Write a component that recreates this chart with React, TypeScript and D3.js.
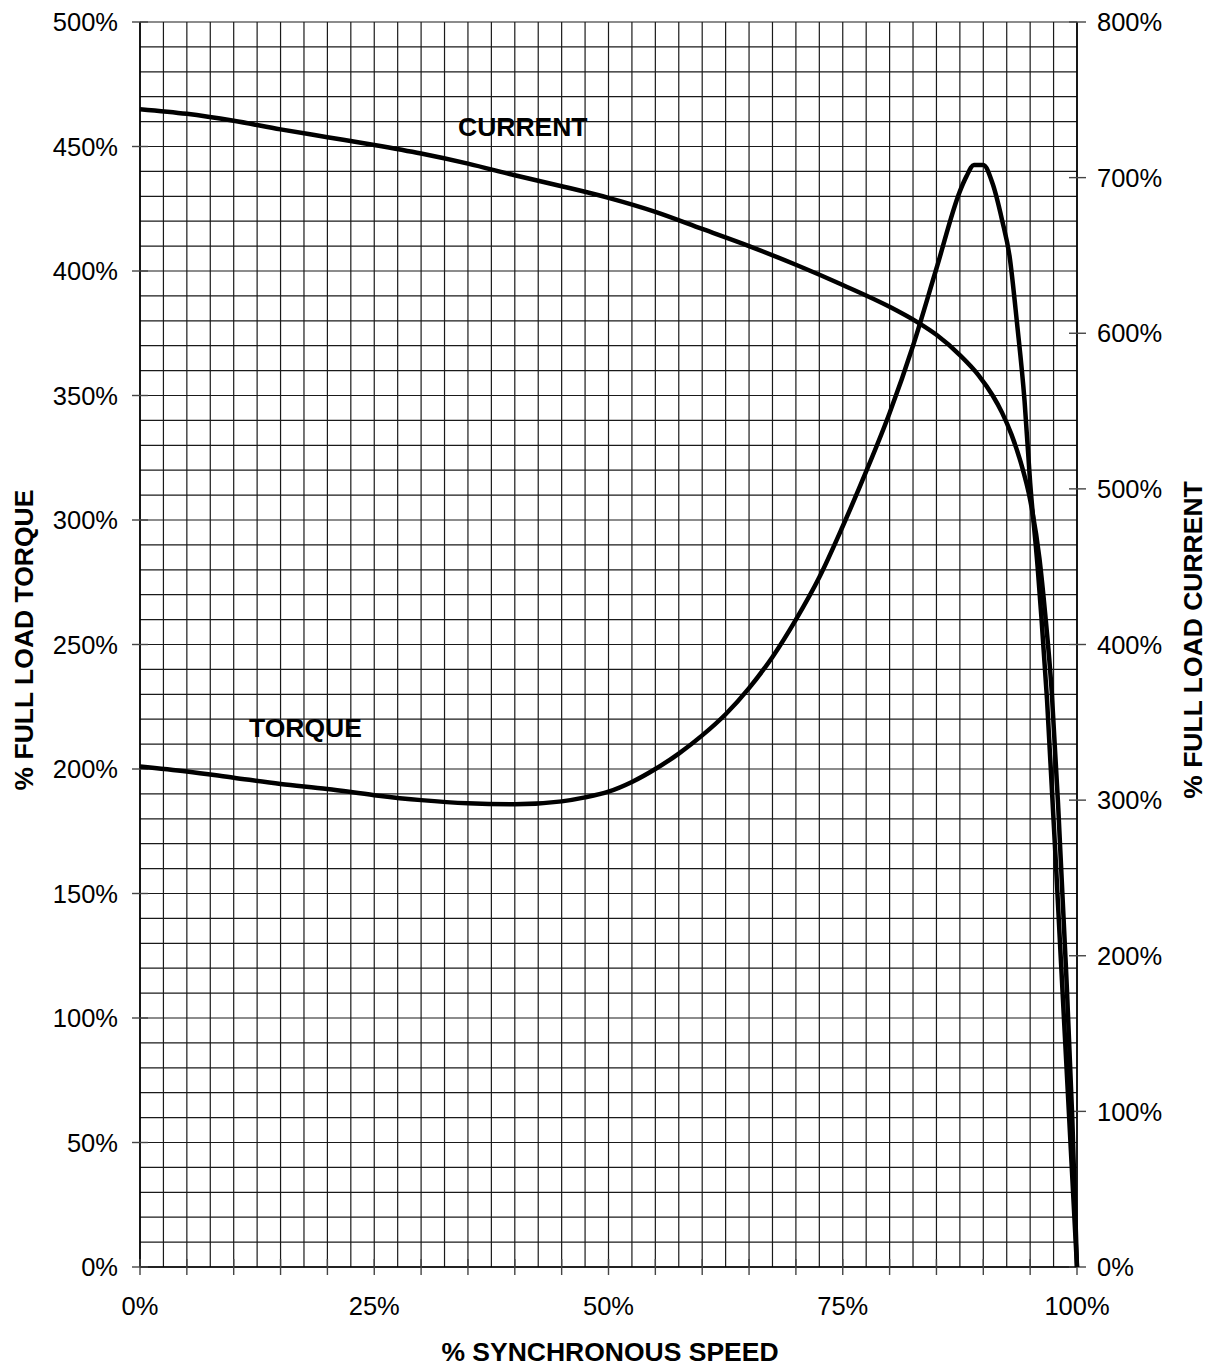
import * as d3 from 'd3';

// % synchronous speed vs % full load torque
const torqueSpeed = [0, 5, 10, 15, 20, 25, 30, 35, 40, 45, 47.5, 50, 52.5, 55, 57.5, 60, 62.5, 65, 67.5, 70, 72.5, 75, 77.5, 80, 82.5, 85, 87.5, 88.2, 89, 90, 91, 92, 92.8, 93.6, 94.4, 95, 95.8, 96.2, 96.8, 98.2, 100];
const torqueValues = [201, 199, 196.5, 194, 192, 189.5, 187.5, 186.2, 185.8, 187, 188.6, 190.9, 194.8, 200, 206.2, 213.5, 222, 232.5, 245, 260, 277, 297.5, 319.5, 343, 370, 401, 432, 438, 442.6, 442.6, 435, 420.5, 406, 379, 348, 315, 281, 261, 228, 129, 0];

// % synchronous speed vs % full load current
const currentSpeed = [0, 5, 10, 15, 20, 25, 30, 35, 40, 45, 50, 55, 60, 65, 70, 75, 80, 83, 85, 87.5, 89.5, 91, 92, 93, 94, 95, 96, 96.6, 97.3, 98, 98.8, 99.5, 100];
const currentValues = [744, 741, 736.5, 731, 726, 721, 715.5, 709, 701.5, 694.5, 687, 678, 667, 656, 644, 631, 617, 607, 599, 586, 573, 560, 549, 535, 517, 493, 455, 420, 370, 295, 195, 95, 0];

const speedTicks = [0, 25, 50, 75, 100];
const torqueTicks = [0, 50, 100, 150, 200, 250, 300, 350, 400, 450, 500];
const currentTicks = [0, 100, 200, 300, 400, 500, 600, 700, 800];

const W = 1214;
const H = 1366;
const left = 140;
const right = 1077;
const top = 22;
const bottom = 1267;
const font = 'Arial, "Liberation Sans", Helvetica, sans-serif';

export default function App() {
  const x = d3.scaleLinear().domain([0, 100]).range([left, right]);
  const yT = d3.scaleLinear().domain([0, 500]).range([bottom, top]);
  const yC = d3.scaleLinear().domain([0, 800]).range([bottom, top]);

  const torqueLine = d3.line<number>()
    .x((_, i) => x(torqueSpeed[i]))
    .y(d => yT(d))
    .curve(d3.curveMonotoneX);
  const currentLine = d3.line<number>()
    .x((_, i) => x(currentSpeed[i]))
    .y(d => yC(d))
    .curve(d3.curveMonotoneX);

  const vGrid = d3.range(0, 100.001, 2.5);
  const hGrid = d3.range(0, 500.001, 10);
  const minorX = d3.range(0, 100.001, 5);

  return (
    <svg width={W} height={H} style={{ position: 'absolute', left: 0, top: 0, background: '#fff' }}>
      {/* grid */}
      <g stroke="#1a1a1a" strokeWidth={1.2}>
        {vGrid.map(v => (
          <line key={'v' + v} x1={x(v)} x2={x(v)} y1={top} y2={bottom} />
        ))}
        {hGrid.map(v => (
          <line key={'h' + v} x1={left} x2={right} y1={yT(v)} y2={yT(v)} />
        ))}
      </g>

      {/* axis frame */}
      <g stroke="#000" strokeWidth={1.6}>
        <line x1={left} x2={left} y1={top} y2={bottom} />
        <line x1={right} x2={right} y1={top} y2={bottom} />
        <line x1={left} x2={right} y1={bottom} y2={bottom} />
      </g>

      {/* ticks */}
      <g stroke="#444" strokeWidth={1.4}>
        {torqueTicks.map(t => (
          <line key={'lt' + t} x1={left - 8} x2={left + 8} y1={yT(t)} y2={yT(t)} />
        ))}
        {currentTicks.map(t => (
          <line key={'rt' + t} x1={right - 8} x2={right + 9} y1={yC(t)} y2={yC(t)} />
        ))}
        {minorX.map(t => (
          <line key={'bt' + t} x1={x(t)} x2={x(t)} y1={bottom - 8} y2={bottom + 8} />
        ))}
      </g>

      {/* tick labels */}
      <g fontFamily={font} fontSize={25.5} fill="#000">
        {torqueTicks.map(t => (
          <text key={'ll' + t} x={left - 22} y={yT(t)} dy="0.36em" textAnchor="end">{t}%</text>
        ))}
        {currentTicks.map(t => (
          <text key={'rl' + t} x={right + 20} y={yC(t)} dy="0.36em" textAnchor="start">{t}%</text>
        ))}
        {speedTicks.map(t => (
          <text key={'bl' + t} x={x(t)} y={1315} textAnchor="middle">{t}%</text>
        ))}
      </g>

      {/* curves */}
      <path d={torqueLine(torqueValues) || ''} fill="none" stroke="#000" strokeWidth={4.5} strokeLinejoin="round" />
      <path d={currentLine(currentValues) || ''} fill="none" stroke="#000" strokeWidth={4.5} strokeLinejoin="round" />

      {/* curve labels */}
      <g fontFamily={font} fontSize={26.5} fontWeight="bold" fill="#000">
        <text x={458} y={136}>CURRENT</text>
        <text x={249} y={737}>TORQUE</text>
      </g>

      {/* axis titles */}
      <g fontFamily={font} fontSize={26.5} fontWeight="bold" fill="#000" textAnchor="middle">
        <text x={610} y={1361}>% SYNCHRONOUS SPEED</text>
        <text transform={`translate(33,640) rotate(-90)`}>% FULL LOAD TORQUE</text>
        <text transform={`translate(1202,640) rotate(-90)`}>% FULL LOAD CURRENT</text>
      </g>
    </svg>
  );
}
